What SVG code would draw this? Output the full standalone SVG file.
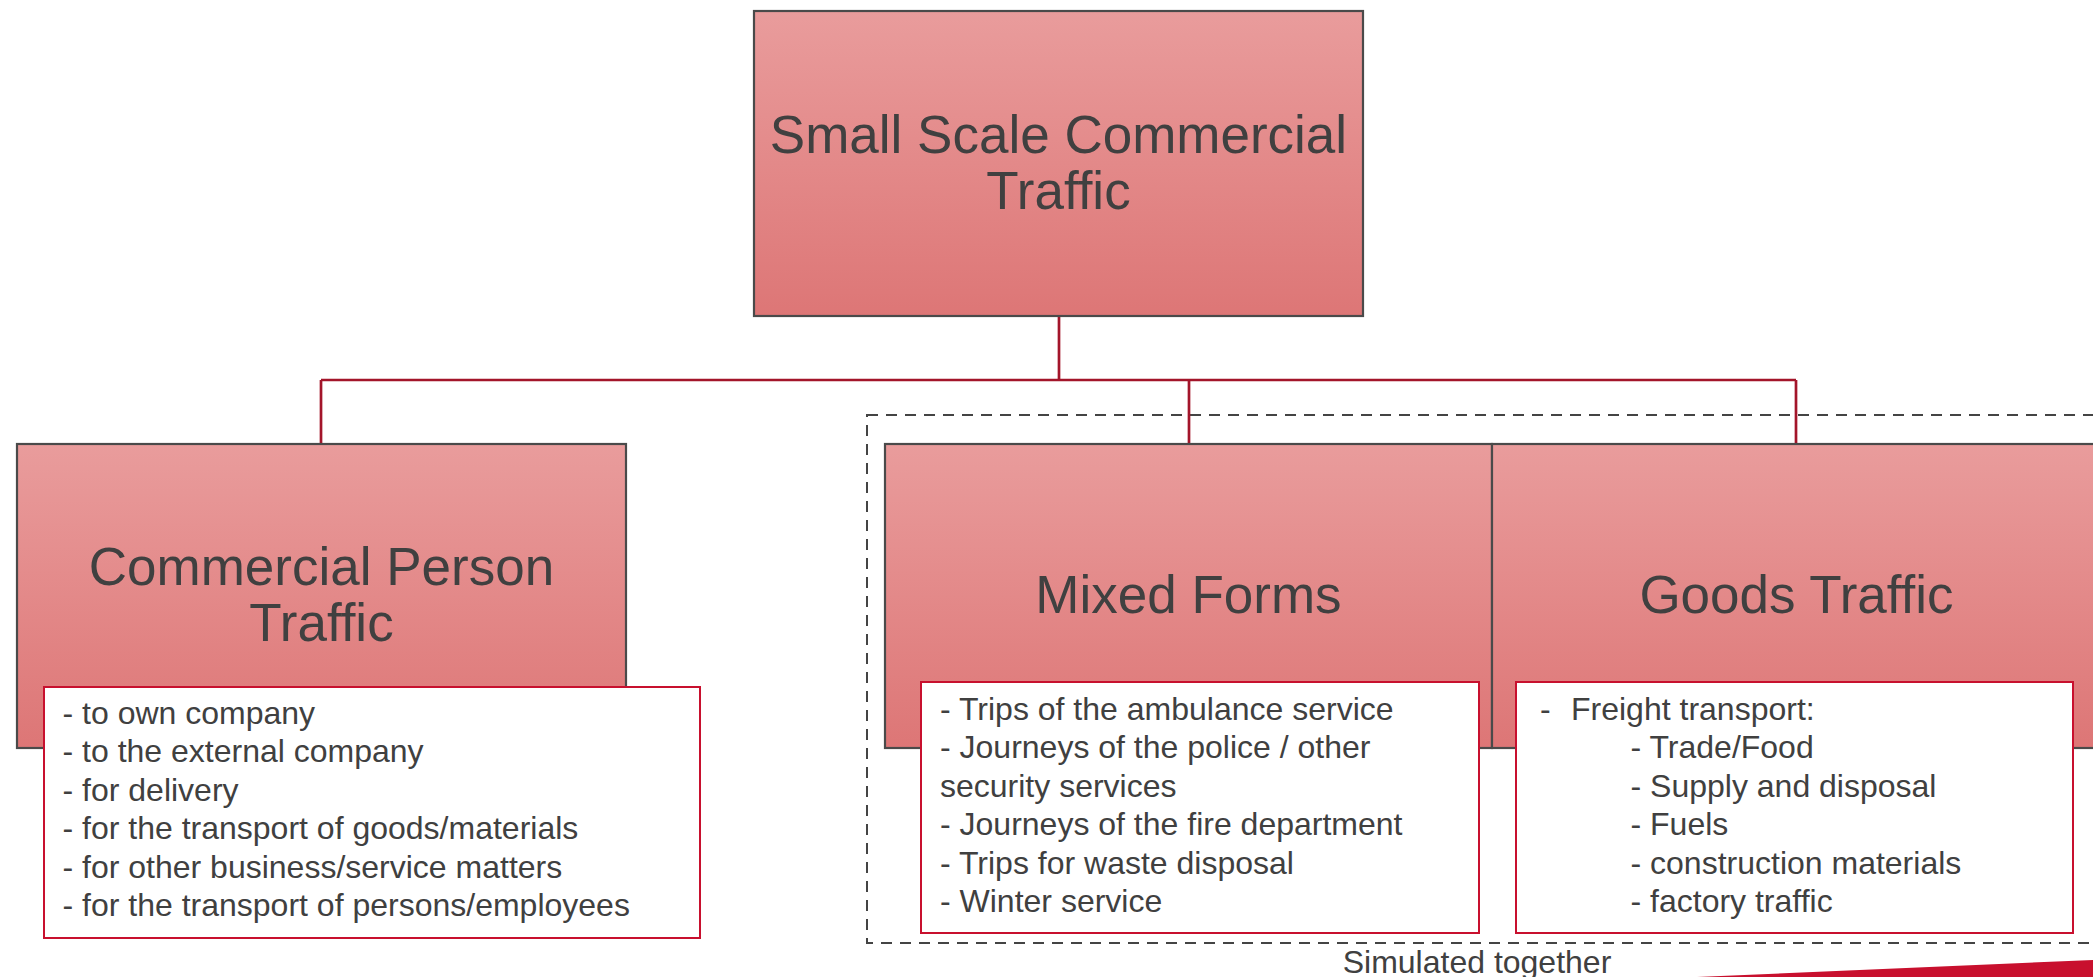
<svg xmlns="http://www.w3.org/2000/svg" width="2093" height="977" viewBox="0 0 2093 977">
  <defs>
    <linearGradient id="boxFill" x1="0" y1="0" x2="0" y2="1">
      <stop offset="0" stop-color="#e99c9c"/>
      <stop offset="1" stop-color="#dd7676"/>
    </linearGradient>
    <style>
      .box { fill: url(#boxFill); stroke: #4a4a4a; stroke-width: 2.2; }
      .list { fill: #ffffff; stroke: #c8102e; stroke-width: 2; }
      .title { font-family: "Liberation Sans", Arial, sans-serif; font-size: 53px; fill: #404040; text-anchor: middle; }
      .item { font-family: "Liberation Sans", Arial, sans-serif; font-size: 32px; fill: #404040; }
      .link { fill: none; stroke: #a3152a; stroke-width: 2.7; }
      .group { fill: none; stroke: #444444; stroke-width: 2; stroke-dasharray: 11 8; }
    </style>
  </defs>
  <rect width="2093" height="977" fill="#ffffff"/>

  <!-- grouping frame for the jointly simulated categories -->
  <g id="simulated-group">
    <rect class="group" x="867" y="415" width="1240" height="528"/>
    <text class="item" x="1477" y="973" text-anchor="middle">Simulated together</text>
  </g>

  <!-- tree connectors -->
  <g id="connectors">
    <path class="link" d="M1059 316 V380"/>
    <path class="link" d="M321 380 H1796"/>
    <path class="link" d="M321 380 V444"/>
    <path class="link" d="M1189 380 V444"/>
    <path class="link" d="M1796 380 V444"/>
  </g>

  <g id="root">
    <rect class="box" x="754" y="11" width="609" height="305"/>
    <text class="title" x="1058.5" y="153">Small Scale Commercial</text>
    <text class="title" x="1058.5" y="209">Traffic</text>
  </g>

  <g id="person-traffic">
    <rect class="box" x="17" y="444" width="609" height="304"/>
    <text class="title" x="321.5" y="585">Commercial Person</text>
    <text class="title" x="321.5" y="641">Traffic</text>
    <rect class="list" x="44" y="687" width="656" height="251"/>
    <text class="item" x="62.5" y="724">- to own company</text>
    <text class="item" x="62.5" y="762.4">- to the external company</text>
    <text class="item" x="62.5" y="800.8">- for delivery</text>
    <text class="item" x="62.5" y="839.2">- for the transport of goods/materials</text>
    <text class="item" x="62.5" y="877.6">- for other business/service matters</text>
    <text class="item" x="62.5" y="916">- for the transport of persons/employees</text>
  </g>

  <g id="mixed-forms">
    <rect class="box" x="885" y="444" width="607" height="304"/>
    <text class="title" x="1188.5" y="613">Mixed Forms</text>
    <rect class="list" x="921" y="682" width="558" height="251"/>
    <text class="item" x="940" y="720">- Trips of the ambulance service</text>
    <text class="item" x="940" y="758.4">- Journeys of the police / other</text>
    <text class="item" x="940" y="796.8">security services</text>
    <text class="item" x="940" y="835.2">- Journeys of the fire department</text>
    <text class="item" x="940" y="873.6">- Trips for waste disposal</text>
    <text class="item" x="940" y="912">- Winter service</text>
  </g>

  <g id="goods-traffic">
    <rect class="box" x="1492" y="444" width="608" height="304"/>
    <text class="title" x="1796.5" y="613">Goods Traffic</text>
    <rect class="list" x="1516" y="682" width="557" height="251"/>
    <text class="item" x="1540" y="720">-</text>
    <text class="item" x="1571" y="720">Freight transport:</text>
    <text class="item" x="1630.5" y="758.4">- Trade/Food</text>
    <text class="item" x="1630.5" y="796.8">- Supply and disposal</text>
    <text class="item" x="1630.5" y="835.2">- Fuels</text>
    <text class="item" x="1630.5" y="873.6">- construction materials</text>
    <text class="item" x="1630.5" y="912">- factory traffic</text>
  </g>

  <!-- corner accent -->
  <polygon points="1697,977 2093,960 2093,977" fill="#c8102e"/>
</svg>
